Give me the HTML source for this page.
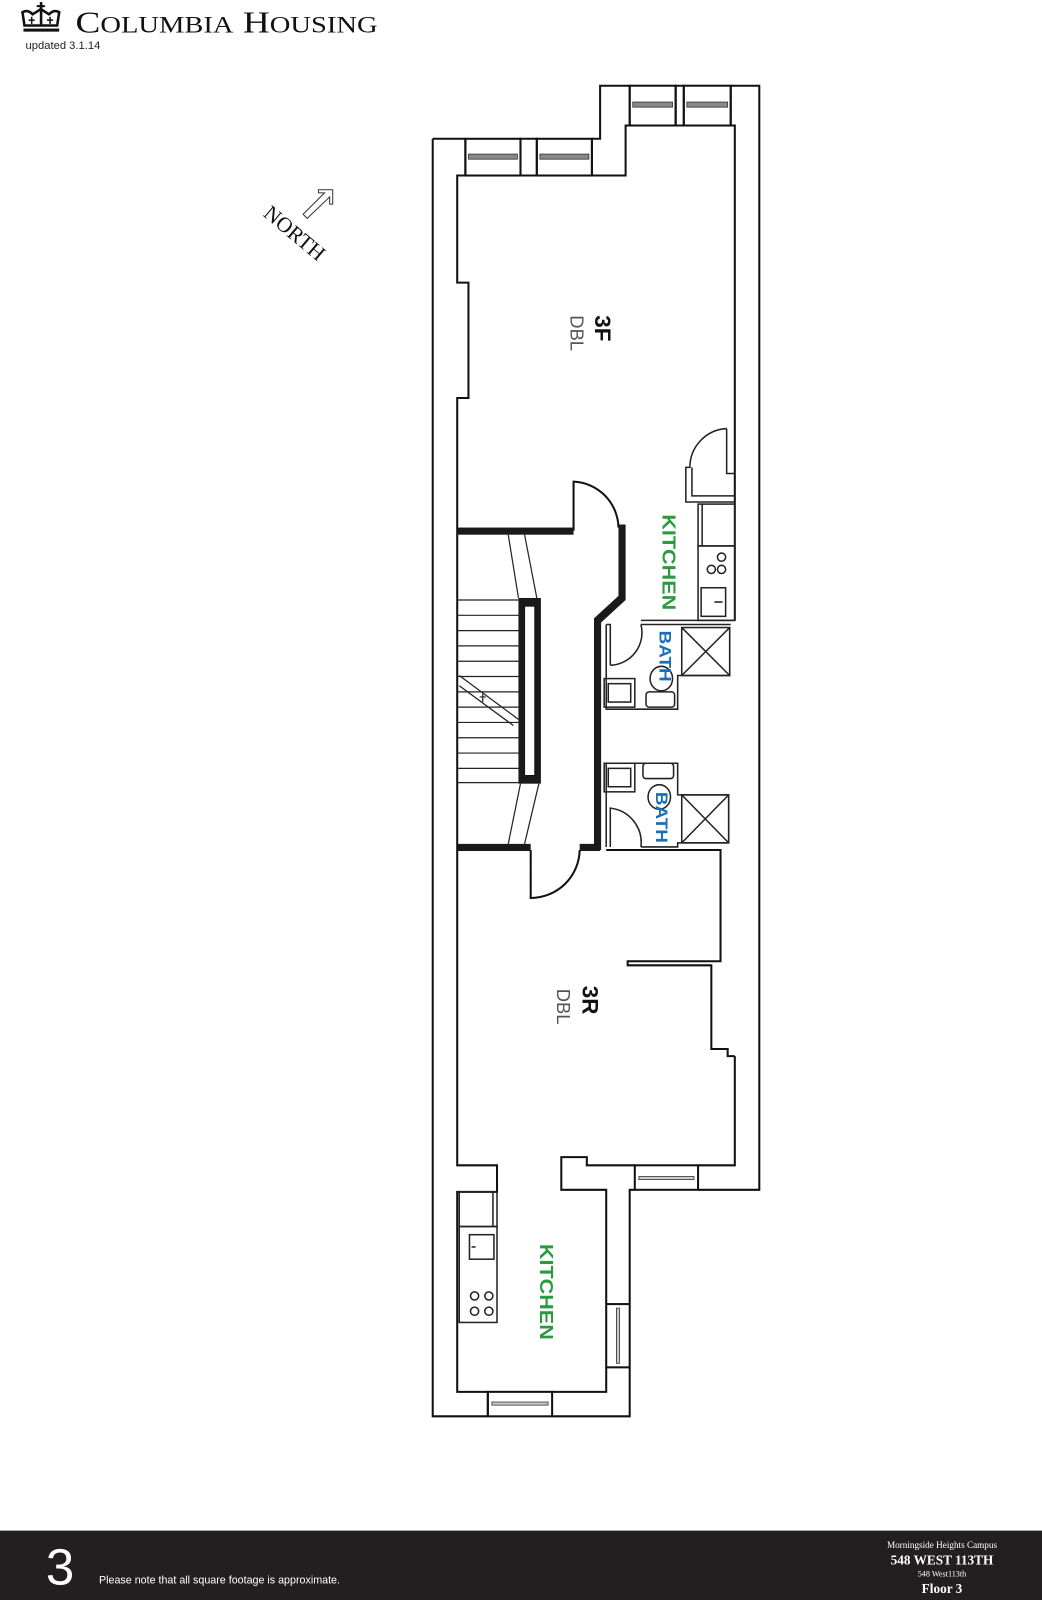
<!DOCTYPE html>
<html><head><meta charset="utf-8">
<style>
html,body{margin:0;padding:0;background:#fff;}
svg{display:block;}
</style></head>
<body>
<svg width="1042" height="1600" viewBox="0 0 1021 1568" preserveAspectRatio="none" xmlns="http://www.w3.org/2000/svg">
<rect width="1021" height="1568" fill="#fff"/>
<!-- header -->
<g fill="#111">
<rect x="23" y="28" width="35" height="3"/>
<path d="M24 25 L22 12 Q27 9 32 14 L40 9 L48 14 Q53 9 58 12 L56 25 Z" fill="none" stroke="#111" stroke-width="2.5"/>
<rect x="39" y="2" width="2.5" height="22"/>
<rect x="36" y="5" width="8" height="2"/>
<rect x="28" y="19" width="6" height="1.5"/><rect x="30.3" y="16.5" width="1.5" height="7"/>
<rect x="46" y="19" width="6" height="1.5"/><rect x="48.3" y="16.5" width="1.5" height="7"/>
</g>
<text x="74" y="32" font-family="Liberation Serif, serif" font-size="30" fill="#111" textLength="296" lengthAdjust="spacingAndGlyphs">C<tspan font-size="23">OLUMBIA</tspan> H<tspan font-size="23">OUSING</tspan></text>
<text x="25" y="48" font-family="Liberation Sans, sans-serif" font-size="11" fill="#222">updated 3.1.14</text>
<!-- north -->
<path d="M297 210 L318 189 L312 189 L312 186 L326 186 L326 200 L323 200 L323 193 L301 214 Z" fill="#fff" stroke="#333" stroke-width="1"/>
<text transform="translate(257,211) rotate(40)" font-family="Liberation Serif, serif" font-size="21" fill="#111">NORTH</text>

<g fill="none" stroke="#111" stroke-width="2" stroke-linejoin="miter">
<path d="M424 136 L456 136 M510 136 L526 136 L526 172 L510 172 Z M580 136 L588 136 L588 84 L617 84 M662 84 L670 84 L670 123 L662 123 Z M716 84 L744 84 L744 1166 L684 1166 M622 1166 L617 1166 L617 1278 M617 1340 L617 1388 L541 1388 M478 1388 L424 1388 L424 136"/>
<path d="M456 136 L456 172 L448 172 L448 277 L459 277 L459 390 L448 390 L448 1142 L487 1142 L487 1168 L448 1168 L448 1364 L478 1364 L478 1388"/>
<path d="M510 172 L456 172 M526 172 L580 172 L580 136 M580 172 L613 172 L613 123 L617 123 L617 84"/>
<path d="M662 84 L662 123 L617 123 M670 123 L716 123 L716 84 M716 123 L720 123 L720 608"/>
<rect x="456" y="136" width="54" height="36"/>
<rect x="526" y="136" width="54" height="36"/>
<rect x="617" y="84" width="45" height="39"/>
<rect x="670" y="84" width="46" height="39"/>
<rect x="622" y="1142" width="62" height="24"/>
<rect x="478" y="1364" width="63" height="24"/>
<rect x="594" y="1278" width="23" height="62"/>
</g>
<g fill="#888" stroke="#333" stroke-width="0.8">
<rect x="459" y="151" width="48" height="5"/><rect x="529" y="151" width="48" height="5"/>
<rect x="620" y="100" width="39" height="5"/><rect x="673" y="100" width="40" height="5"/>
<rect x="626" y="1153" width="54" height="3" fill="#ccc"/><rect x="482" y="1374" width="55" height="3" fill="#ccc"/>
<rect x="604" y="1282" width="3" height="54" fill="#ccc"/>
</g>
<g fill="none" stroke="#111" stroke-width="2">
<path d="M720 1035 L720 1142 L684 1142 M622 1142 L575 1142 L575 1134 L550 1134 L550 1166 L594 1166 L594 1278 M594 1340 L594 1364 L541 1364"/>
<path d="M594 833 L706 833 L706 942 L615 942 L615 946 L697 946 L697 1028 L713 1028 L713 1035 L720 1035"/>
<path d="M562 520 L562 472 A46 46 0 0 1 606 517"/>
<path d="M520 833 L520 880 A48 48 0 0 0 568 833"/>
</g>
<g fill="#1a1a1a">
<rect x="448" y="517" width="114" height="7"/>
<path d="M606 514 L613 514 L613 588 L589 610 L589 833 L582 833 L582 606 L606 584 Z"/>
<rect x="568" y="827" width="20" height="7"/>
<rect x="448" y="827" width="72" height="7"/>
<rect x="508" y="586" width="22" height="182"/>
</g>
<rect x="514" y="594" width="10" height="166" fill="#fff" stroke="#111" stroke-width="1"/>
<g stroke="#222" stroke-width="1.2" fill="none">
<path d="M498 524 L508 586 M514 524 L526 586 M510 768 L498 827 M528 768 L514 827"/>
<path d="M448 588H508 M448 603H508 M448 618H508 M448 633H508 M448 648H508 M448 663H508 M448 678H508 M448 693H508 M448 708H508 M448 723H508 M448 738H508 M448 753H508 M448 767H508"/>
<path d="M450 662 L508 705 M450 672 L503 711"/>
<path d="M470 683 L476 683 M473 680 L473 688"/>
</g>
<g fill="none" stroke="#222" stroke-width="1.5">
<path d="M712 420 L712 464 L720 464 M712 420 A38 38 0 0 0 676 458 L672 458 L672 492 L720 492 M678 458 L678 486 L720 486"/>
<rect x="684" y="494" width="36" height="41"/>
<path d="M688 494 L688 535"/>
<rect x="684" y="535" width="36" height="73"/>
<circle cx="707" cy="546" r="4"/><circle cx="697" cy="558" r="4"/><circle cx="707" cy="558" r="4"/>
<rect x="687" y="576" width="24" height="28"/>
<path d="M700 590 L708 590"/>
<path d="M628 608 L720 608 M628 612 L716 612"/>
<path d="M594 612 L598 612 L598 652 M598 652 A32 32 0 0 0 628 612"/>
<path d="M594 612 L594 695 L664 695 L664 662 L715 662 L715 615"/>
<rect x="668" y="615" width="47" height="47"/>
<path d="M668 615 L715 662 M715 615 L668 662"/>
<rect x="592" y="665" width="30" height="28"/><rect x="596" y="670" width="22" height="18"/>
<ellipse cx="648" cy="665" rx="11" ry="12"/>
<rect x="633" y="678" width="28" height="15" rx="3"/>
<path d="M594 748 L664 748 L664 779 L714 779 L714 826 L664 826 L664 830 L628 830 M594 748 L594 830"/>
<rect x="668" y="779" width="46" height="47"/>
<path d="M668 779 L714 826 M714 779 L668 826"/>
<rect x="592" y="748" width="30" height="28"/><rect x="596" y="753" width="22" height="18"/>
<ellipse cx="646" cy="781" rx="11" ry="12"/>
<rect x="630" y="748" width="30" height="15" rx="3"/>
<path d="M598 830 L598 792 A34 34 0 0 1 628 830"/>
<rect x="450" y="1168" width="37" height="34"/>
<path d="M483 1168 L483 1202"/>
<rect x="450" y="1202" width="37" height="94"/>
<rect x="460" y="1210" width="24" height="24"/>
<path d="M466 1222 L462 1222"/>
<circle cx="465" cy="1270" r="4"/><circle cx="479" cy="1270" r="4"/><circle cx="465" cy="1285" r="4"/><circle cx="479" cy="1285" r="4"/>
</g>
<g font-family="Liberation Sans, sans-serif">
<text transform="translate(583,309) rotate(90)" font-size="22" font-weight="bold" fill="#111">3F</text>
<text transform="translate(559,309) rotate(90)" font-size="18" fill="#555">DBL</text>
<text transform="translate(571,966) rotate(90)" font-size="22" font-weight="bold" fill="#111">3R</text>
<text transform="translate(546,969) rotate(90)" font-size="18" fill="#555">DBL</text>
<text transform="translate(649,504) rotate(90)" font-size="18" font-weight="bold" fill="#2a9a3e" textLength="94" lengthAdjust="spacingAndGlyphs">KITCHEN</text>
<text transform="translate(529,1219) rotate(90)" font-size="18" font-weight="bold" fill="#2a9a3e" textLength="94" lengthAdjust="spacingAndGlyphs">KITCHEN</text>
<text transform="translate(646,618) rotate(90)" font-size="16" font-weight="bold" fill="#1a6fba" textLength="50" lengthAdjust="spacingAndGlyphs">BATH</text>
<text transform="translate(643,776) rotate(90)" font-size="16" font-weight="bold" fill="#1a6fba" textLength="50" lengthAdjust="spacingAndGlyphs">BATH</text>
</g>
<rect x="0" y="1500" width="1021" height="68" fill="#231f20"/>
<text x="45" y="1553" font-family="Liberation Sans, sans-serif" font-size="50" fill="#fff">3</text>
<text x="97" y="1552" font-family="Liberation Sans, sans-serif" font-size="10.5" fill="#fff">Please note that all square footage is approximate.</text>
<g font-family="Liberation Serif, serif" fill="#fff" text-anchor="middle">
<text x="923" y="1517" font-size="9">Morningside Heights Campus</text>
<text x="923" y="1533" font-size="13" font-weight="bold">548 WEST 113TH</text>
<text x="923" y="1545" font-size="8">548 West113th</text>
<text x="923" y="1561" font-size="13" font-weight="bold">Floor 3</text>
</g>
</svg>
</body></html>
